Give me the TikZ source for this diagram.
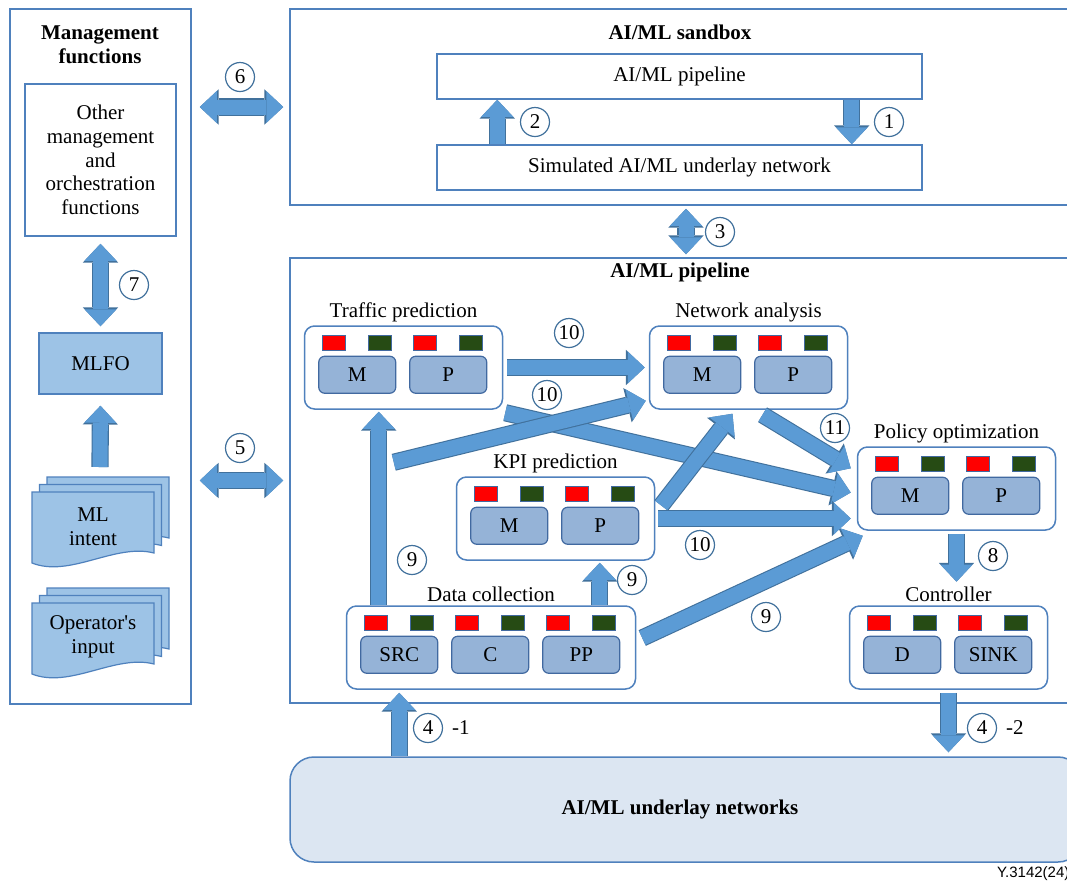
\documentclass[tikz,border=0pt]{standalone}
\usepackage{fontspec}
\setmainfont{Liberation Serif}
\newfontfamily\figsans{Liberation Sans}
\usetikzlibrary{arrows.meta,calc,fit,positioning}
\definecolor{boxblue}{RGB}{79,129,189}
\definecolor{arrowfill}{RGB}{91,155,213}
\definecolor{arrowedge}{RGB}{65,113,156}
\definecolor{mlfofill}{RGB}{157,195,230}
\definecolor{partfill}{RGB}{149,179,215}
\definecolor{partedge}{RGB}{65,105,160}
\definecolor{flagred}{RGB}{255,0,0}
\definecolor{flaggreen}{RGB}{38,75,20}
\definecolor{underlayfill}{RGB}{220,230,242}

\newcommand{\figfont}{\fontsize{10.5pt}{11.8pt}\selectfont}

\tikzset{
  panel/.style={draw=boxblue, line width=0.75pt, inner sep=0pt},
  plainbox/.style={draw=boxblue, line width=0.75pt, fill=white, inner sep=0pt},
  docsheet/.style={draw=boxblue, line width=0.6pt, fill=mlfofill},
  stage/.style={draw=boxblue, line width=0.75pt, fill=white, rounded corners=5pt, minimum height=41.5pt, inner sep=0pt},
  stagetitle/.style={anchor=south, inner sep=1.5pt},
  part/.style={draw=partedge, line width=0.6pt, fill=partfill, rounded corners=3pt, minimum width=38.5pt, minimum height=18.5pt, inner sep=0pt},
  flag/.style={draw=partedge, line width=0.4pt, minimum width=11.75pt, minimum height=7.5pt, inner sep=0pt},
  num/.style={circle, draw=arrowedge, line width=0.6pt, fill=white, minimum size=14.5pt, inner sep=0pt},
  fat/.style={line width=7.5pt, draw=arrowfill, -{Triangle[width=16pt,length=8.5pt,line width=0pt]},
    preaction={draw=arrowedge, line width=8.6pt, -{Triangle[width=17.6pt,length=9.4pt,line width=0pt]}}},
  fatboth/.style={line width=7.5pt, draw=arrowfill,
    {Triangle[width=16pt,length=8.5pt,line width=0pt]}-{Triangle[width=16pt,length=8.5pt,line width=0pt]},
    preaction={draw=arrowedge, line width=8.6pt,
      {Triangle[width=17.6pt,length=9.4pt,line width=0pt]}-{Triangle[width=17.6pt,length=9.4pt,line width=0pt]}}},
}

% one pipeline stage: name, centre, width, title, parts
\newcommand{\mlstage}[5]{%
  \node[stage, minimum width=#3] (#1) at (#2) {};
  \node[stagetitle] (#1-t) at (#1.north) {#4};
  \foreach \p [count=\k from 0] in {#5} {
    \node[part] (#1-p\k) at ($(#1.north west)+(53.5+91*\k,49.5)$) {\p};
    \node[flag, fill=flagred] (#1-r\k) at ($(#1.north west)+(30+91*\k,17.5)$) {};
    \node[flag, fill=flaggreen] (#1-g\k) at ($(#1.north west)+(76+91*\k,17.5)$) {};
  }%
}

\begin{document}
\begin{tikzpicture}[x=0.5pt,y=-0.5pt,font=\figfont]
  \useasboundingbox (0,0) rectangle (1067,885);
  \fill[white] (0,0) rectangle (1067,885);

  % management functions
  \node[panel, fit={(10,9) (191,704)}] (mgmt) {};
  \node[align=center, font=\figfont\bfseries] (mgmt-t) at (100,45) {Management\\functions};
  \node[plainbox, fit={(25,84) (176,236)}] (oth) {};
  \node[align=center] (oth-t) at (oth.center) {Other\\management\\and\\orchestration\\functions};
  \node[plainbox, fill=mlfofill, fit={(39,333) (162,394)}] (mlfo) {};
  \node (mlfo-t) at (mlfo.center) {MLFO};

  % intent and operator input documents
  \foreach \dtop in {492,603}
    \foreach \d in {15,7.5,0}
      \draw[docsheet, shift={(32+\d,\dtop-\d)}] (0,0) -- (122,0) -- (122,61)
        .. controls (83,51) and (38,86) .. (0,71) -- cycle;
  \node[align=center] (intent) at (93,527) {ML\\intent};
  \node[align=center] (opinput) at (93,637) {Operator\textquotesingle s\\input};
  \coordinate (intent-top) at (100,467);

  \draw[fatboth, shorten <=3.5pt, shorten >=3pt] (oth.south) -- (mlfo.north);
  \draw[fat, shorten >=5.5pt] (intent-top) -- (mlfo.south);

  % sandbox
  \node[panel, fit={(290,9) (1082,205)}] (sandbox) {};
  \node[font=\figfont\bfseries] (sandbox-t) at (680,32) {AI/ML sandbox};
  \node[plainbox, minimum width=242.5pt, minimum height=22.5pt] (sbpipe) at (679.5,76.5) {AI/ML pipeline};
  \node[plainbox, minimum width=242.5pt, minimum height=22.5pt] (sbnet) at (679.5,167.5) {Simulated AI/ML underlay network};
  \draw[fat] ($(sbpipe.south east)+(-71,0)$) -- ($(sbnet.north east)+(-71,0)$);
  \draw[fat] ($(sbnet.north west)+(61,0)$) -- ($(sbpipe.south west)+(61,0)$);

  % pipeline
  \node[panel, fit={(290,258) (1082,703)}] (pipeline) {};
  \node[font=\figfont\bfseries] (pipeline-t) at (680,272) {AI/ML pipeline};

  % underlay networks
  \node[panel, fill=underlayfill, rounded corners=12pt, fit={(290,757) (1082,862)}] (underlay) {};
  \node[font=\figfont\bfseries] (underlay-t) at (680,809) {AI/ML underlay networks};

  % links between the big boxes
  \draw[fatboth, shorten <=1.5pt, shorten >=1.5pt] (sandbox.south) -- (pipeline.north);
  \draw[fatboth, shorten <=4pt, shorten >=3pt] (mgmt.east |- sandbox.west) -- (sandbox.west);
  \draw[fatboth, shorten <=4pt, shorten >=3pt] (mgmt.east |- pipeline.west) -- (pipeline.west);

  % stages
  \mlstage{tp}{403.5,367.5}{99pt}{Traffic prediction}{M,P}
  \mlstage{na}{748.5,367.5}{99pt}{Network analysis}{M,P}
  \mlstage{kpi}{555.5,518.5}{99pt}{KPI prediction}{M,P}
  \mlstage{po}{956.5,488.5}{99pt}{Policy optimization}{M,P}
  \mlstage{ctl}{948.5,647.5}{99pt}{Controller}{D,SINK}
  \mlstage{dc}{491,647.5}{144.5pt}{Data collection}{SRC,C,PP}

  % data collection outputs
  \coordinate (fork) at ($(dc.north west)+(48,-143)$);
  \draw[fat, shorten >=1pt] ($(dc.north west)+(33,0)$) -- ($(tp.south west)+(75,0)$);
  \draw[fat, shorten >=1pt] ($(dc.north west)+(254,0)$) -- ($(kpi.south west)+(144,0)$);
  \draw[fat] ($(dc.east)+(6,-9.5)$) -- ($(po.south west)+(6,5)$);

  % prediction outputs
  \draw[fat, shorten <=2pt, shorten >=2pt] (tp.east) -- (na.west);
  \draw[fat] ($(tp.south east)+(2,3)$) -- ($(po.west)+(-6,4)$);
  \draw[fat] (fork) -- ($(na.south west)+(-3,-9)$);
  \draw[fat, shorten <=1.5pt, shorten >=3pt] (kpi.east) -- (kpi.east -| po.west);
  \draw[fat] ($(kpi.east)+(6,-13)$) -- ($(na.south)+(-16,4)$);
  \draw[fat] ($(na.south)+(14,5)$) -- ($(po.north west)+(-6,22)$);
  \draw[fat, shorten <=1.5pt, shorten >=1pt] (po.south) -- (po.south |- ctl-t.north);

  % to and from the underlay
  \draw[fat, shorten >=1.5pt] (underlay.north -| dc-p0) -- (dc.south -| dc-p0);
  \draw[fat, shorten <=1.5pt, shorten >=2pt] (ctl.south) -- (underlay.north -| ctl.south);

  % numbers
  \node[num] (n1) at (889,122) {1};
  \node[num] (n2) at (535,122) {2};
  \node[num] (n3) at (720,232) {3};
  \node[num] (n4a) at (428,728) {4};
  \node[right=1pt of n4a] (n4a-s) {-1};
  \node[num] (n4b) at (982,728) {4};
  \node[right=1pt of n4b] (n4b-s) {-2};
  \node[num] (n5) at (240,448) {5};
  \node[num] (n6) at (240,77) {6};
  \node[num] (n7) at (134,285) {7};
  \node[num] (n8) at (993,556) {8};
  \node[num] (n9a) at (412,560) {9};
  \node[num] (n9b) at (632,580) {9};
  \node[num] (n9c) at (766,617) {9};
  \node[num] (n10a) at (569,333) {10};
  \node[num] (n10b) at (547,395) {10};
  \node[num] (n10c) at (700,545) {10};
  \node[num] (n11) at (835,428) {11};

  \node[anchor=west, font=\figsans\fontsize{7.5pt}{9pt}\selectfont] (fig-id) at (990,874) {Y.3142(24)};
\end{tikzpicture}
\end{document}
